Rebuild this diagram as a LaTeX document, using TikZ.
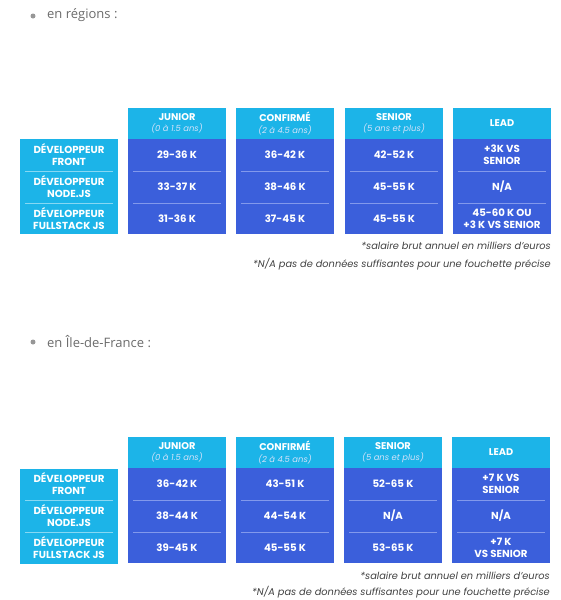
\documentclass[tikz,border=0pt]{standalone}
\usepackage{fontspec}
\setmainfont{Poppins}
\newfontfamily\listfont{Open Sans}

\definecolor{cyanhead}{HTML}{1CB4E8}
\definecolor{bluebody}{HTML}{3B5FDB}
\definecolor{bluerule}{HTML}{8299EC}
\definecolor{cyanrule}{HTML}{86D8F3}
\definecolor{subtext}{HTML}{D2E2FA}
\definecolor{listtext}{HTML}{6B6B6B}
\definecolor{notetext}{HTML}{3F3F3F}

\newcommand{\subfont}{\mdseries\itshape\fontsize{8.4}{10}\selectfont\color{subtext}}

\tikzset{
  headcell/.style={fill=cyanhead, minimum width=98pt, minimum height=31pt, inner sep=0pt,
    text=white, align=center, font=\fontsize{9.8}{11.5}\selectfont},
  bodycol/.style={fill=bluebody, minimum width=98pt, minimum height=95pt, inner sep=0pt},
  rolebox/.style={fill=cyanhead, minimum width=98pt, minimum height=95pt, inner sep=0pt},
  celltext/.style={text=white, align=center, inner sep=0pt, font=\bfseries\fontsize{10.2}{12}\selectfont},
  bulletdot/.style={circle, fill=listtext!70, minimum size=5pt, inner sep=0pt},
  bullettext/.style={anchor=west, text=listtext, inner sep=0pt, font=\listfont\fontsize{13}{15}\selectfont},
  notetext/.style={anchor=east, text=notetext, inner sep=0pt, font=\itshape\fontsize{9.8}{11}\selectfont},
  rowrule/.style={bluerule, line width=0.6pt},
  rolerule/.style={cyanrule, line width=0.6pt}
}

\begin{document}
\begin{tikzpicture}[x=1pt, y=-1pt]
      \useasboundingbox (0,0) rectangle (561,600);

      % Regions - Title
      \node (dot1) [bulletdot] at (33,16) {};
      \node (title1) [bullettext] at (47,15.5) {en régions :};

      % Regions - Headers
      \node (hjun1) [headcell] at (177,123.5) {\bfseries JUNIOR\\{\subfont(0 à 1.5 ans)}};
      \node (hconf1) [headcell] at (285,123.5) {\bfseries CONFIRMÉ\\{\subfont(2 à 4.5 ans)}};
      \node (hsen1) [headcell] at (394,123.5) {\bfseries SENIOR\\{\subfont(5 ans et plus)}};
      \node (hlead1) [headcell] at (502,123.5) {\bfseries LEAD};

      % Regions - Columns
      \node (role1) [rolebox] at (69,186.5) {};
      \node (cjun1) [bodycol] at (177,186.5) {};
      \node (cconf1) [bodycol] at (285,186.5) {};
      \node (csen1) [bodycol] at (394,186.5) {};
      \node (clead1) [bodycol] at (502,186.5) {};
      \draw[rolerule] (25,171) -- (113,171);
      \draw[rolerule] (25,203) -- (113,203);
      \foreach \cx in {177,285,394,502} {
        \draw[rowrule] (\cx-44,171) -- (\cx+44,171);
        \draw[rowrule] (\cx-44,203) -- (\cx+44,203);
      }

      % Regions - Cells
      \node (rfront1) [celltext] at (69,155) {DÉVELOPPEUR\\FRONT};
      \node (rnode1) [celltext] at (69,187) {DÉVELOPPEUR\\NODE.JS};
      \node (rfull1) [celltext] at (69,219) {DÉVELOPPEUR\\FULLSTACK JS};
      \node (a11) [celltext] at (177,155) {29-36 K};
      \node (a12) [celltext] at (177,187) {33-37 K};
      \node (a13) [celltext] at (177,219) {31-36 K};
      \node (a21) [celltext] at (285,155) {36-42 K};
      \node (a22) [celltext] at (285,187) {38-46 K};
      \node (a23) [celltext] at (285,219) {37-45 K};
      \node (a31) [celltext] at (394,155) {42-52 K};
      \node (a32) [celltext] at (394,187) {45-55 K};
      \node (a33) [celltext] at (394,219) {45-55 K};
      \node (a41) [celltext] at (502,155) {+3K VS\\SENIOR};
      \node (a42) [celltext] at (502,187) {N/A};
      \node (a43) [celltext] at (502,219) {45-60 K OU\\+3 K VS SENIOR};

      % Regions - Notes
      \node (note11) [notetext] at (551,246) {*salaire brut annuel en milliers d'euros};
      \node (note12) [notetext] at (551,264) {*N/A pas de données suffisantes pour une fouchette précise};

      % Ile-de-France - Title
      \node (dot2) [bulletdot] at (33,342) {};
      \node (title2) [bullettext] at (47,341.5) {en Île-de-France :};

      % Ile-de-France - Headers
      \node (hjun2) [headcell] at (177,452.5) {\bfseries JUNIOR\\{\subfont(0 à 1.5 ans)}};
      \node (hconf2) [headcell] at (285,452.5) {\bfseries CONFIRMÉ\\{\subfont(2 à 4.5 ans)}};
      \node (hsen2) [headcell] at (393,452.5) {\bfseries SENIOR\\{\subfont(5 ans et plus)}};
      \node (hlead2) [headcell] at (501,452.5) {\bfseries LEAD};

      % Ile-de-France - Columns
      \node (role2) [rolebox] at (69,516) {};
      \node (cjun2) [bodycol] at (177,515.5) {};
      \node (cconf2) [bodycol] at (285,515.5) {};
      \node (csen2) [bodycol] at (393,515.5) {};
      \node (clead2) [bodycol] at (501,515.5) {};
      \draw[rolerule] (25,500) -- (113,500);
      \draw[rolerule] (25,532) -- (113,532);
      \foreach \cx in {177,285,393,501} {
        \draw[rowrule] (\cx-44,500) -- (\cx+44,500);
        \draw[rowrule] (\cx-44,532) -- (\cx+44,532);
      }

      % Ile-de-France - Cells
      \node (rfront2) [celltext] at (69,484) {DÉVELOPPEUR\\FRONT};
      \node (rnode2) [celltext] at (69,516) {DÉVELOPPEUR\\NODE.JS};
      \node (rfull2) [celltext] at (69,548) {DÉVELOPPEUR\\FULLSTACK JS};
      \node (b11) [celltext] at (177,484) {36-42 K};
      \node (b12) [celltext] at (177,516) {38-44 K};
      \node (b13) [celltext] at (177,548) {39-45 K};
      \node (b21) [celltext] at (285,484) {43-51 K};
      \node (b22) [celltext] at (285,516) {44-54 K};
      \node (b23) [celltext] at (285,548) {45-55 K};
      \node (b31) [celltext] at (393,484) {52-65 K};
      \node (b32) [celltext] at (393,516) {N/A};
      \node (b33) [celltext] at (393,548) {53-65 K};
      \node (b41) [celltext] at (501,484) {+7 K VS\\SENIOR};
      \node (b42) [celltext] at (501,516) {N/A};
      \node (b43) [celltext] at (501,548) {+7 K\\VS SENIOR};

      % Ile-de-France - Notes
      \node (note21) [notetext] at (550,576) {*salaire brut annuel en milliers d'euros};
      \node (note22) [notetext] at (550,592) {*N/A pas de données suffisantes pour une fouchette précise};

    \end{tikzpicture}
\end{document}
